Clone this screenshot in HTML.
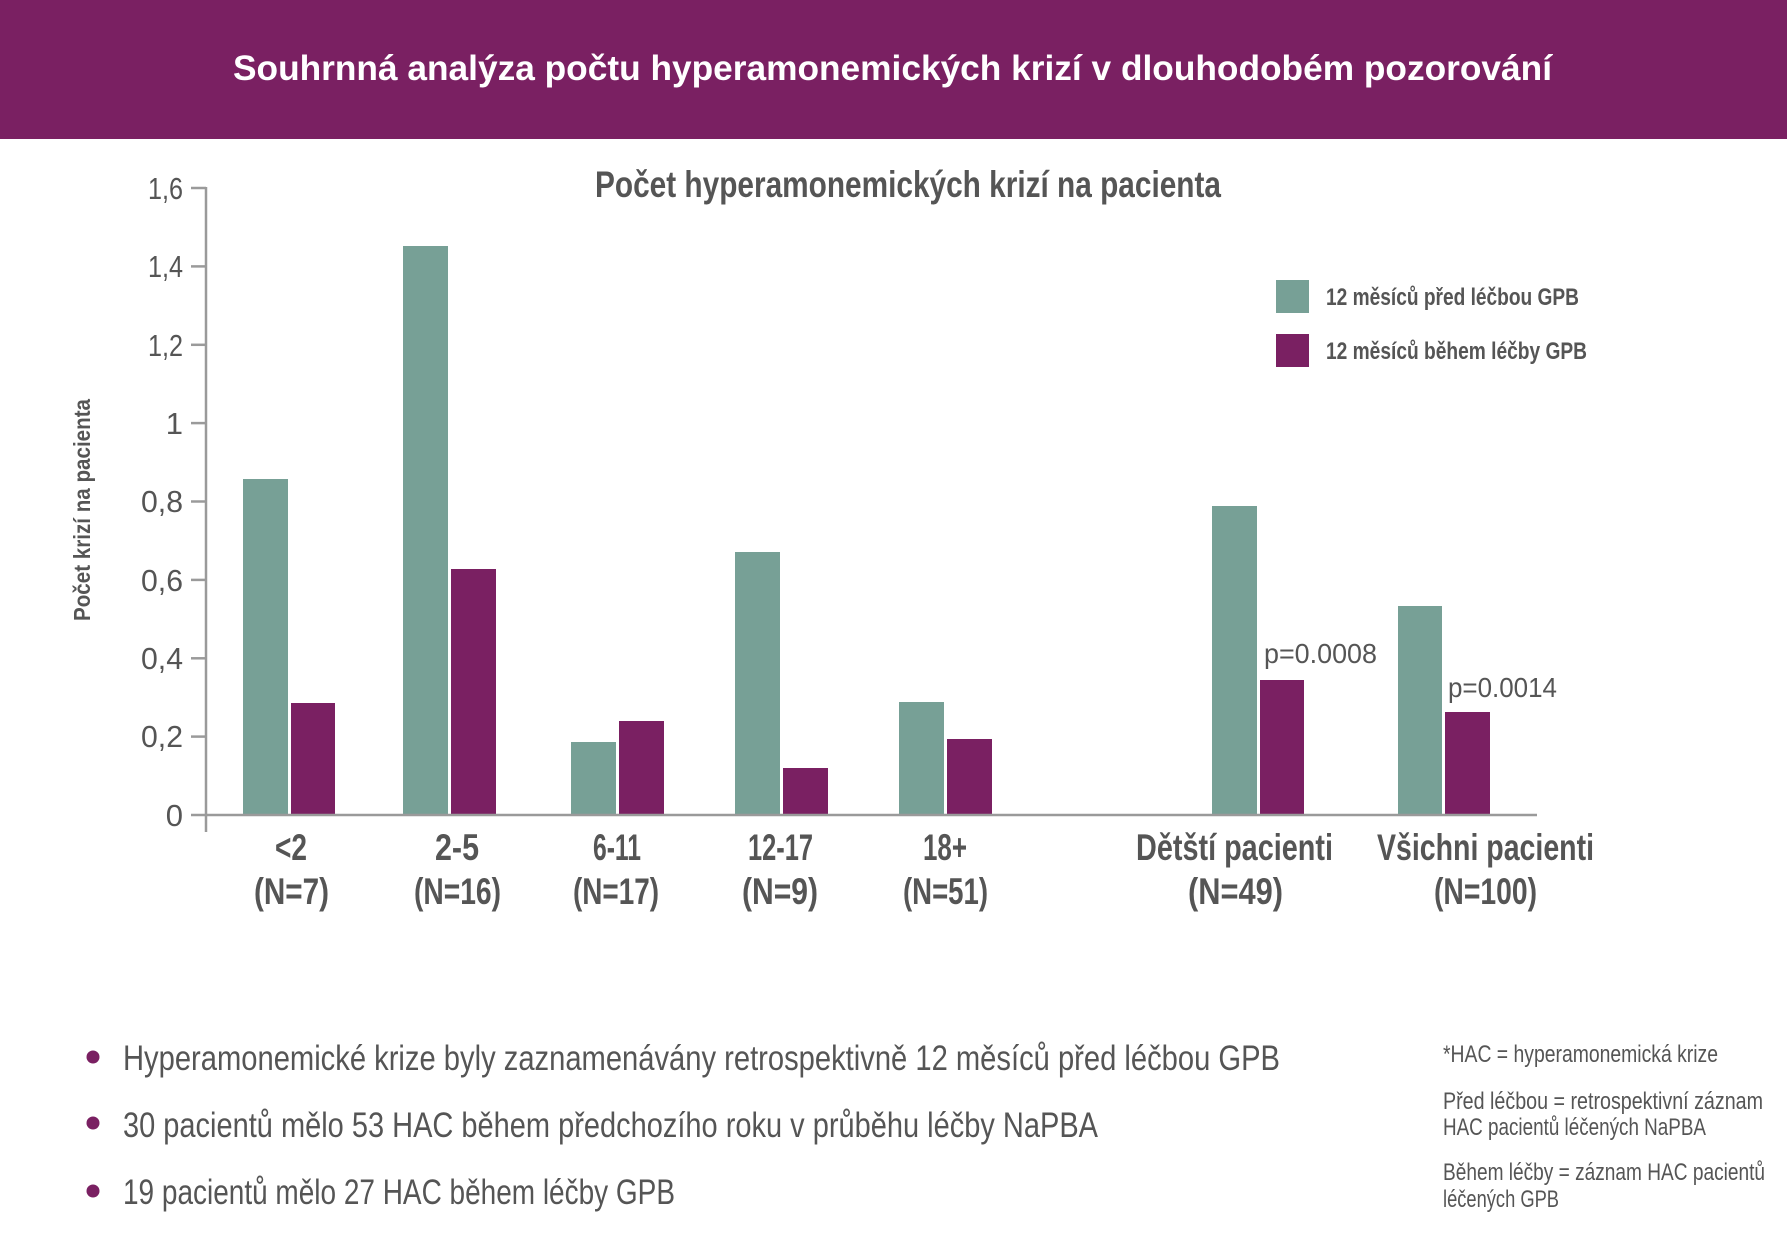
<!DOCTYPE html>
<html>
<head>
<meta charset="utf-8">
<style>
html,body{margin:0;padding:0;background:#fff;}
svg{display:block;}
</style>
</head>
<body>
<svg width="1787" height="1233" viewBox="0 0 1787 1233" xmlns="http://www.w3.org/2000/svg">
<rect x="0" y="0" width="1787" height="1233" fill="#ffffff"/>
<!-- header -->
<rect x="0" y="0" width="1787" height="139" fill="#7a2062"/>
<text x="233" y="80" font-family="'Liberation Sans', sans-serif" font-weight="bold" font-size="35" fill="#ffffff" textLength="1319" lengthAdjust="spacingAndGlyphs">Souhrnná analýza počtu hyperamonemických krizí v dlouhodobém pozorování</text>

<!-- chart title -->
<text x="595" y="197" font-family="'Liberation Sans Narrow','Liberation Sans', sans-serif" font-weight="bold" font-size="37" fill="#555555" textLength="626" lengthAdjust="spacingAndGlyphs">Počet hyperamonemických krizí na pacienta</text>

<!-- y axis label -->
<text transform="translate(90,510) rotate(-90)" text-anchor="middle" font-family="'Liberation Sans Narrow','Liberation Sans', sans-serif" font-weight="bold" font-size="23" fill="#555555" textLength="222" lengthAdjust="spacingAndGlyphs">Počet krizí na pacienta</text>

<!-- bars -->
<g fill="#77a096">
<rect x="243" y="479" width="45" height="336"/>
<rect x="403" y="246" width="45" height="569"/>
<rect x="571" y="742" width="45" height="73"/>
<rect x="735" y="552" width="45" height="263"/>
<rect x="899" y="702" width="45" height="113"/>
<rect x="1212" y="506" width="45" height="309"/>
<rect x="1398" y="606" width="44" height="209"/>
</g>
<g fill="#7a2062">
<rect x="291" y="703" width="44" height="112"/>
<rect x="451" y="569" width="45" height="246"/>
<rect x="619" y="721" width="45" height="94"/>
<rect x="783" y="768" width="45" height="47"/>
<rect x="947" y="739" width="45" height="76"/>
<rect x="1260" y="680" width="44" height="135"/>
<rect x="1445" y="712" width="45" height="103"/>
</g>

<!-- axes -->
<g stroke="#9a9a9a" stroke-width="2.5" fill="none">
<line x1="206" y1="187" x2="206" y2="832"/>
<line x1="191" y1="815" x2="1537" y2="815"/>
<line x1="191" y1="188" x2="206" y2="188"/>
<line x1="191" y1="266.4" x2="206" y2="266.4"/>
<line x1="191" y1="344.8" x2="206" y2="344.8"/>
<line x1="191" y1="423.1" x2="206" y2="423.1"/>
<line x1="191" y1="501.5" x2="206" y2="501.5"/>
<line x1="191" y1="579.9" x2="206" y2="579.9"/>
<line x1="191" y1="658.3" x2="206" y2="658.3"/>
<line x1="191" y1="736.6" x2="206" y2="736.6"/>
</g>

<!-- tick labels -->
<g font-family="'Liberation Sans', sans-serif" font-size="31" fill="#555555" text-anchor="end">
<text x="183" y="199" textLength="35" lengthAdjust="spacingAndGlyphs">1,6</text>
<text x="183" y="277" textLength="35" lengthAdjust="spacingAndGlyphs">1,4</text>
<text x="183" y="356" textLength="35" lengthAdjust="spacingAndGlyphs">1,2</text>
<text x="183" y="434">1</text>
<text x="183" y="512" textLength="42" lengthAdjust="spacingAndGlyphs">0,8</text>
<text x="183" y="591" textLength="42" lengthAdjust="spacingAndGlyphs">0,6</text>
<text x="183" y="669" textLength="42" lengthAdjust="spacingAndGlyphs">0,4</text>
<text x="183" y="747" textLength="42" lengthAdjust="spacingAndGlyphs">0,2</text>
<text x="183" y="826">0</text>
</g>

<!-- category labels -->
<g font-family="'Liberation Sans Narrow','Liberation Sans', sans-serif" font-weight="bold" font-size="37" fill="#555555">
<text x="275" y="860" textLength="32" lengthAdjust="spacingAndGlyphs">&lt;2</text>
<text x="254" y="904" textLength="75" lengthAdjust="spacingAndGlyphs">(N=7)</text>
<text x="435" y="860" textLength="44" lengthAdjust="spacingAndGlyphs">2-5</text>
<text x="414" y="904" textLength="87" lengthAdjust="spacingAndGlyphs">(N=16)</text>
<text x="593" y="860" textLength="48" lengthAdjust="spacingAndGlyphs">6-11</text>
<text x="573" y="904" textLength="86" lengthAdjust="spacingAndGlyphs">(N=17)</text>
<text x="748" y="860" textLength="65" lengthAdjust="spacingAndGlyphs">12-17</text>
<text x="742" y="904" textLength="76" lengthAdjust="spacingAndGlyphs">(N=9)</text>
<text x="923" y="860" textLength="44" lengthAdjust="spacingAndGlyphs">18+</text>
<text x="903" y="904" textLength="85" lengthAdjust="spacingAndGlyphs">(N=51)</text>
<text x="1136" y="860" textLength="197" lengthAdjust="spacingAndGlyphs">Dětští pacienti</text>
<text x="1188" y="904" textLength="95" lengthAdjust="spacingAndGlyphs">(N=49)</text>
<text x="1377" y="860" textLength="217" lengthAdjust="spacingAndGlyphs">Všichni pacienti</text>
<text x="1434" y="904" textLength="103" lengthAdjust="spacingAndGlyphs">(N=100)</text>
</g>

<!-- p values -->
<g font-family="'Liberation Sans', sans-serif" font-size="28" fill="#555555">
<text x="1264" y="663" textLength="113" lengthAdjust="spacingAndGlyphs">p=0.0008</text>
<text x="1448" y="697" textLength="109" lengthAdjust="spacingAndGlyphs">p=0.0014</text>
</g>

<!-- legend -->
<rect x="1276" y="280" width="33" height="33" fill="#77a096"/>
<rect x="1276" y="334" width="33" height="33" fill="#7a2062"/>
<g font-family="'Liberation Sans Narrow','Liberation Sans', sans-serif" font-weight="bold" font-size="24" fill="#555555">
<text x="1326" y="305" textLength="253" lengthAdjust="spacingAndGlyphs">12 měsíců před léčbou GPB</text>
<text x="1326" y="359" textLength="261" lengthAdjust="spacingAndGlyphs">12 měsíců během léčby GPB</text>
</g>

<!-- bullets -->
<g fill="#7a2062">
<circle cx="93" cy="1057" r="6.5"/>
<circle cx="93" cy="1123" r="6.5"/>
<circle cx="93" cy="1191" r="6.5"/>
</g>
<g font-family="'Liberation Sans Narrow','Liberation Sans', sans-serif" font-size="35" fill="#555555">
<text x="123" y="1070" textLength="1157" lengthAdjust="spacingAndGlyphs">Hyperamonemické krize byly zaznamenávány retrospektivně 12 měsíců před léčbou GPB</text>
<text x="123" y="1137" textLength="975" lengthAdjust="spacingAndGlyphs">30 pacientů mělo 53 HAC během předchozího roku v průběhu léčby NaPBA</text>
<text x="123" y="1204" textLength="552" lengthAdjust="spacingAndGlyphs">19 pacientů mělo 27 HAC během léčby GPB</text>
</g>

<!-- footnotes -->
<g font-family="'Liberation Sans Narrow','Liberation Sans', sans-serif" font-size="24" fill="#555555">
<text x="1443" y="1062" textLength="275" lengthAdjust="spacingAndGlyphs">*HAC = hyperamonemická krize</text>
<text x="1443" y="1109" textLength="320" lengthAdjust="spacingAndGlyphs">Před léčbou = retrospektivní záznam</text>
<text x="1443" y="1135" textLength="263" lengthAdjust="spacingAndGlyphs">HAC pacientů léčených NaPBA</text>
<text x="1443" y="1180" textLength="322" lengthAdjust="spacingAndGlyphs">Během léčby = záznam HAC pacientů</text>
<text x="1443" y="1207" textLength="116" lengthAdjust="spacingAndGlyphs">léčených GPB</text>
</g>
</svg>
</body>
</html>
